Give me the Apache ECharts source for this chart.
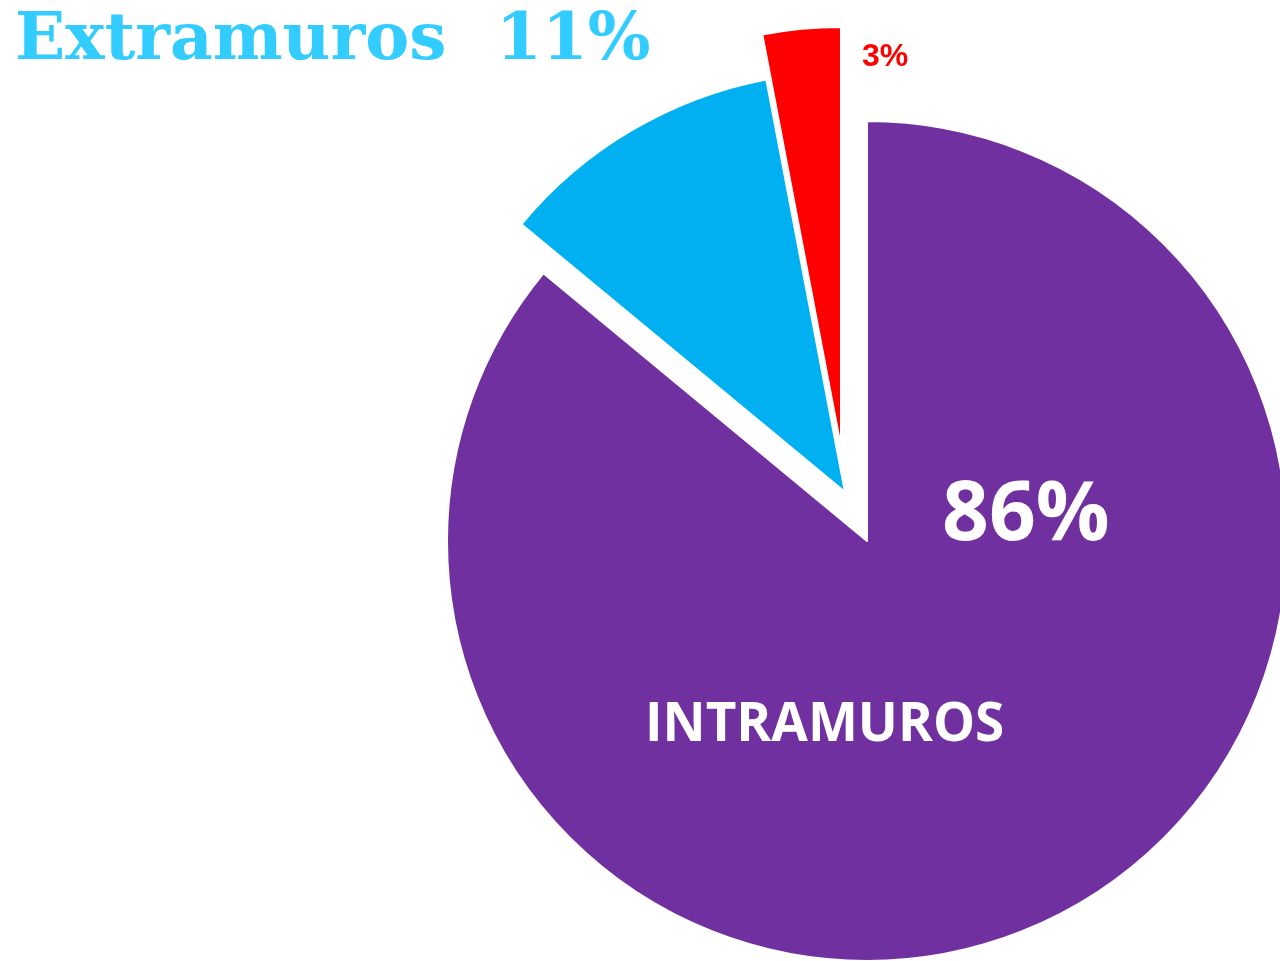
<!DOCTYPE html>
<html>
<head>
<meta charset="utf-8">
<script src="https://cdn.jsdelivr.net/npm/echarts@6/dist/echarts.min.js"></script>
<style>
html,body{margin:0;padding:0;background:#fff;}
#chart{width:1280px;height:961px;}
</style>
</head>
<body>
<div id="chart"></div>
<script>
var categories = ['INTRAMUROS', 'Extramuros', 'Otros'];
var values = [86, 11, 3];
var sliceColors = ['#7030A0', '#00B0F0', '#FF0000'];

var chart = echarts.init(document.getElementById('chart'));

// each slice gets its own pie (same data) so it can be pulled out by its own amount
var centers = [[867, 541], [845, 492], [841, 447]];

function sliceSeries(k) {
	var data = [];
	for (var i = 0; i < values.length; i++) {
		data.push({
			name: categories[i],
			value: values[i],
			itemStyle: i == k ?
				{color: sliceColors[i], borderColor: '#fff', borderWidth: 2} :
				{color: 'rgba(0,0,0,0)', borderWidth: 0}
		});
	}
	return {
		type: 'pie',
		center: centers[k],
		radius: [0, 420],
		startAngle: 90,
		clockwise: true,
		animation: false,
		silent: true,
		label: {show: false},
		labelLine: {show: false},
		data: data,
		z: 2 + k
	};
}

var series = [];
for (var k = 0; k < values.length; k++) series.push(sliceSeries(k));

var option = {
	backgroundColor: '#fff',
	series: series,
	graphic: [
		{
			type: 'text', left: 15, top: 9, z: 10,
			style: {text: categories[1], fill: '#33CCFF', font: 'bold 66px "DejaVu Serif"'}
		},
		{
			type: 'text', left: 496, top: 9, z: 10,
			style: {text: values[1] + '%', fill: '#33CCFF', font: 'bold 66px "DejaVu Serif"'}
		},
		{
			type: 'text', left: 862, top: 41, z: 10,
			style: {text: values[2] + '%', fill: '#FF0000', font: 'bold 32px "Liberation Sans"'}
		},
		{
			type: 'text', left: 942, top: 476, z: 10,
			style: {text: values[0] + '%', fill: '#fff', font: 'bold 82px "Open Sans"'}
		},
		{
			type: 'text', left: 645, top: 699, z: 10,
			style: {text: categories[0], fill: '#fff', font: 'bold 53px "Open Sans"'}
		}
	]
};
chart.setOption(option);
</script>
</body>
</html>
